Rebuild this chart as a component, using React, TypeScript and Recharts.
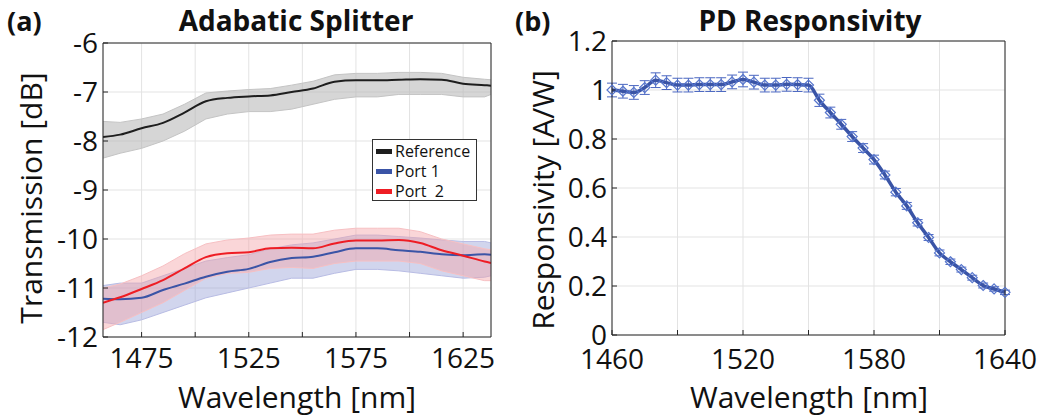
import { ComposedChart, Line, Area, XAxis, YAxis, CartesianGrid, ErrorBar, Label } from 'recharts';

// (a) adiabatic splitter, smoothed traces + envelope of raw noisy traces
const wavelengthA = [1457, 1465, 1475, 1485, 1495, 1505, 1515, 1525, 1535, 1545, 1555, 1565, 1575, 1585, 1595, 1605, 1615, 1625, 1635, 1638];
const refSmooth = [-7.92, -7.87, -7.74, -7.63, -7.42, -7.19, -7.12, -7.09, -7.07, -7.0, -6.93, -6.79, -6.76, -6.76, -6.75, -6.74, -6.75, -6.83, -6.86, -6.87];
const refHigh = [-7.6, -7.62, -7.55, -7.45, -7.25, -7.02, -6.98, -6.95, -6.93, -6.86, -6.78, -6.65, -6.62, -6.62, -6.6, -6.6, -6.62, -6.7, -6.74, -6.75];
const refLow = [-8.35, -8.25, -8.15, -8.0, -7.8, -7.55, -7.45, -7.4, -7.4, -7.35, -7.25, -7.15, -7.1, -7.1, -7.05, -7.05, -7.05, -7.1, -7.1, -7.05];
const port1Smooth = [-11.22, -11.23, -11.2, -11.04, -10.91, -10.77, -10.67, -10.61, -10.47, -10.39, -10.36, -10.27, -10.19, -10.19, -10.23, -10.26, -10.31, -10.33, -10.31, -10.32];
const port1High = [-10.95, -10.9, -10.9, -10.75, -10.6, -10.45, -10.38, -10.32, -10.2, -10.12, -10.08, -10.0, -9.92, -9.92, -9.95, -9.98, -10.02, -10.05, -10.05, -10.08];
const port1Low = [-11.7, -11.75, -11.65, -11.5, -11.35, -11.2, -11.1, -11.0, -10.9, -10.8, -10.8, -10.7, -10.62, -10.62, -10.65, -10.7, -10.75, -10.8, -10.78, -10.75];
const port2Smooth = [-11.3, -11.19, -11.02, -10.84, -10.6, -10.37, -10.29, -10.27, -10.19, -10.18, -10.19, -10.09, -10.03, -10.03, -10.02, -10.08, -10.23, -10.34, -10.46, -10.49];
const port2High = [-11.0, -10.92, -10.75, -10.55, -10.3, -10.1, -10.02, -9.98, -9.92, -9.9, -9.9, -9.82, -9.78, -9.78, -9.78, -9.85, -10.0, -10.1, -10.2, -10.22];
const port2Low = [-11.85, -11.7, -11.5, -11.3, -11.05, -10.8, -10.7, -10.68, -10.6, -10.58, -10.6, -10.5, -10.45, -10.45, -10.45, -10.5, -10.65, -10.75, -10.85, -10.85];

const ticksA = [1475, 1500, 1525, 1550, 1575, 1600, 1625];
const labelledA = [1475, 1525, 1575, 1625];
const dbTicks = [-12, -11, -10, -9, -8, -7, -6];

// (b) photodiode responsivity
const wavelengthB = [1460, 1465, 1470, 1475, 1480, 1485, 1490, 1495, 1500, 1505, 1510, 1515, 1520, 1525, 1530, 1535, 1540, 1545, 1550, 1555, 1560, 1565, 1570, 1575, 1580, 1585, 1590, 1595, 1600, 1605, 1610, 1615, 1620, 1625, 1630, 1635, 1640];
const responsivity = [1.0, 0.995, 0.99, 1.01, 1.04, 1.03, 1.02, 1.02, 1.022, 1.022, 1.022, 1.033, 1.043, 1.032, 1.02, 1.02, 1.023, 1.022, 1.02, 0.958, 0.908, 0.86, 0.81, 0.763, 0.716, 0.653, 0.583, 0.527, 0.458, 0.398, 0.335, 0.299, 0.267, 0.234, 0.202, 0.188, 0.174];
const respError = [0.028, 0.028, 0.028, 0.028, 0.03, 0.028, 0.028, 0.028, 0.028, 0.028, 0.028, 0.028, 0.03, 0.028, 0.028, 0.028, 0.028, 0.028, 0.028, 0.025, 0.022, 0.02, 0.02, 0.018, 0.018, 0.016, 0.015, 0.014, 0.013, 0.012, 0.012, 0.011, 0.01, 0.01, 0.01, 0.009, 0.009];

const ticksB = [1460, 1490, 1520, 1550, 1580, 1610, 1640];
const labelledB = [1460, 1520, 1580, 1640];
const respTicks = [0, 0.2, 0.4, 0.6, 0.8, 1, 1.2];

const spectra = wavelengthA.map((w, i) => ({
  w,
  ref: refSmooth[i],
  p1: port1Smooth[i],
  p2: port2Smooth[i],
  refBand: [refLow[i], refHigh[i]],
  p1Band: [port1Low[i], port1High[i]],
  p2Band: [port2Low[i], port2High[i]],
}));

const respData = wavelengthB.map((w, i) => ({ w, r: responsivity[i], err: respError[i] }));

const FONT = '"Open Sans", "Noto Sans", sans-serif';
const AXIS = '#262626';
const GRID = '#e3e3e3';
const BLUE = '#3a54a6';
const RED = '#ee1d24';
const tickStyle = { fontSize: 28, fill: '#111' };

const legendItems = [
  { name: 'Reference', color: '#1e1e1e' },
  { name: 'Port 1', color: BLUE },
  { name: 'Port  2', color: RED },
];

function Diamond(props: any) {
  const { cx, cy, index } = props;
  if (cx == null || cy == null) return null;
  const s = 5;
  return (
    <path
      key={`d-${index}`}
      d={`M${cx},${cy - s} L${cx + s},${cy} L${cx},${cy + s} L${cx - s},${cy} Z`}
      fill="none"
      stroke="#5675cc"
      strokeWidth={1.2}
    />
  );
}

function vTitle(text: string, x: number, y: number) {
  return () => (
    <text x={x} y={y} transform={`rotate(-90 ${x} ${y})`} textAnchor="middle" dominantBaseline="central" fontSize={30} fill="#111">
      {text}
    </text>
  );
}

function hTitle(text: string, x: number, y: number) {
  return () => (
    <text x={x} y={y} textAnchor="middle" fontSize={30} fill="#111">
      {text}
    </text>
  );
}

function SplitterChart() {
  return (
    <ComposedChart width={520} height={416} data={spectra} margin={{ top: 42, right: 28, bottom: 0, left: 0 }}>
      <CartesianGrid stroke={GRID} />
      <XAxis
        dataKey="w"
        type="number"
        domain={[1457, 1638]}
        ticks={ticksA}
        interval={0}
        height={79}
        tick={tickStyle}
        tickFormatter={(v: number) => (labelledA.includes(v) ? String(v) : '')}
        tickSize={-5}
        tickMargin={16}
        stroke={AXIS}
        allowDataOverflow
      >
        <Label content={hTitle('Wavelength [nm]', 297, 408)} />
      </XAxis>
      <XAxis xAxisId="top" orientation="top" type="number" domain={[1457, 1638]} ticks={ticksA} interval={0} height={1} tick={false} tickSize={-5} stroke={AXIS} allowDataOverflow />
      <YAxis
        type="number"
        domain={[-12, -6]}
        ticks={dbTicks}
        interval={0}
        width={103}
        tick={tickStyle}
        tickSize={-5}
        tickMargin={10}
        stroke={AXIS}
        allowDataOverflow
      >
        <Label content={vTitle('Transmission [dB]', 30, 198)} />
      </YAxis>
      <YAxis yAxisId="right" orientation="right" type="number" domain={[-12, -6]} ticks={dbTicks} interval={0} width={1} tick={false} tickSize={-5} stroke={AXIS} />
      <Area type="linear" dataKey="refBand" fill="#b4b4b4" fillOpacity={0.55} stroke="#c4c4c4" strokeWidth={1} isAnimationActive={false} />
      <Area type="linear" dataKey="p1Band" fill="#9aa2d8" fillOpacity={0.45} stroke="#b8bce4" strokeWidth={1} isAnimationActive={false} />
      <Area type="linear" dataKey="p2Band" fill="#f5a3a8" fillOpacity={0.45} stroke="#f7c0c3" strokeWidth={1} isAnimationActive={false} />
      <Line type="monotone" dataKey="ref" stroke="#1e1e1e" strokeWidth={2} dot={false} isAnimationActive={false} />
      <Line type="monotone" dataKey="p1" stroke={BLUE} strokeWidth={2} dot={false} isAnimationActive={false} />
      <Line type="monotone" dataKey="p2" stroke={RED} strokeWidth={2} dot={false} isAnimationActive={false} />
    </ComposedChart>
  );
}

function ResponsivityChart() {
  return (
    <ComposedChart width={528} height={416} data={respData} margin={{ top: 40, right: 42, bottom: 0, left: 0 }}>
      <CartesianGrid stroke={GRID} />
      <XAxis
        dataKey="w"
        type="number"
        domain={[1460, 1640]}
        ticks={ticksB}
        interval={0}
        height={81}
        tick={tickStyle}
        tickFormatter={(v: number) => (labelledB.includes(v) ? String(v) : '')}
        tickSize={-5}
        tickMargin={19}
        stroke={AXIS}
      >
        <Label content={hTitle('Wavelength [nm]', 289, 408)} />
      </XAxis>
      <XAxis xAxisId="top" orientation="top" type="number" domain={[1460, 1640]} ticks={ticksB} interval={0} height={1} tick={false} tickSize={-5} stroke={AXIS} />
      <YAxis
        type="number"
        domain={[0, 1.2]}
        ticks={respTicks}
        interval={0}
        width={92}
        tick={tickStyle}
        tickSize={-5}
        tickMargin={10}
        stroke={AXIS}
      >
        <Label content={vTitle('Responsivity [A/W]', 22, 200)} />
      </YAxis>
      <YAxis yAxisId="right" orientation="right" type="number" domain={[0, 1.2]} ticks={respTicks} interval={0} width={1} tick={false} tickSize={-5} stroke={AXIS} />
      <Line type="monotone" dataKey="r" stroke={BLUE} strokeWidth={3.5} dot={<Diamond />} isAnimationActive={false}>
        <ErrorBar dataKey="err" width={5} stroke="#4a66c0" strokeWidth={1} direction="y" />
      </Line>
    </ComposedChart>
  );
}

export default function App() {
  return (
    <div style={{ position: 'absolute', left: 0, top: 0, width: 1048, height: 416, background: '#fff', fontFamily: FONT, color: '#111' }}>
      <div style={{ position: 'absolute', left: 0, top: 0 }}>
        <SplitterChart />
      </div>
      <div style={{ position: 'absolute', left: 520, top: 0 }}>
        <ResponsivityChart />
      </div>
      <div style={{ position: 'absolute', left: 7, top: 4, fontSize: 27, fontWeight: 700, lineHeight: '34px' }}>(a)</div>
      <div style={{ position: 'absolute', left: 163, top: 1, width: 266, textAlign: 'center', fontSize: 28, fontWeight: 700, lineHeight: '38px' }}>Adabatic Splitter</div>
      <div style={{ position: 'absolute', left: 515, top: 4, fontSize: 27, fontWeight: 700, lineHeight: '34px' }}>(b)</div>
      <div style={{ position: 'absolute', left: 680, top: 1, width: 260, textAlign: 'center', fontSize: 28, fontWeight: 700, lineHeight: '38px' }}>PD Responsivity</div>
      <div
        style={{
          position: 'absolute',
          left: 372,
          top: 139,
          width: 105,
          height: 62,
          border: '1px solid #333',
          background: '#fff',
          fontSize: 16,
          lineHeight: '20px',
          paddingTop: 1,
          boxSizing: 'border-box',
        }}
      >
        {legendItems.map((it) => (
          <div key={it.name} style={{ display: 'flex', alignItems: 'center', height: 20 }}>
            <span style={{ display: 'inline-block', width: 16, height: 5, background: it.color, marginLeft: 3, marginRight: 3 }} />
            <span style={{ whiteSpace: 'pre' }}>{it.name}</span>
          </div>
        ))}
      </div>
    </div>
  );
}
